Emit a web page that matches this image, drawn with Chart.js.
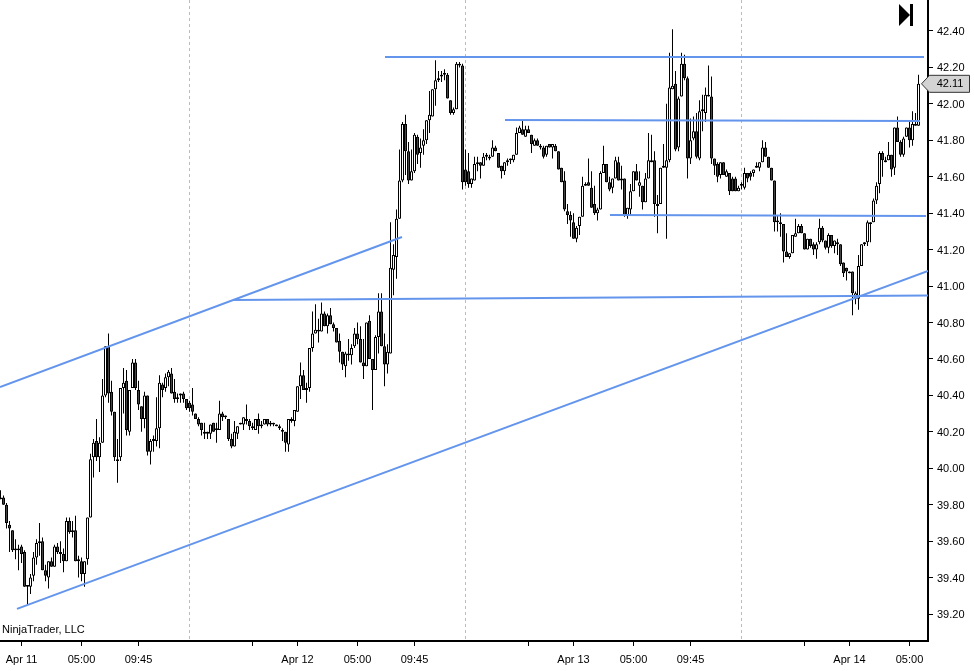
<!DOCTYPE html>
<html>
<head>
<meta charset="utf-8">
<style>
  html, body { margin: 0; padding: 0; background: #fff; }
  #wrap { width: 974px; height: 671px; }
</style>
<script src="https://cdn.jsdelivr.net/npm/chart.js@4"></script>
</head>
<body>
<div id="wrap"><canvas id="chart" width="974" height="671"></canvas></div>
<script>
// 15 minute candles
const opens = [
  39.83,39.84,39.80,39.69,39.66,39.55,39.55,39.57,39.54,39.35,
  39.35,39.41,39.51,39.59,39.60,39.44,39.40,39.49,39.46,39.57,
  39.53,39.53,39.49,39.71,39.65,39.66,39.49,39.49,39.42,39.50,
  39.73,40.06,40.15,40.06,40.14,40.40,40.67,40.42,40.31,40.04,
  40.06,40.44,40.48,40.20,40.44,40.58,40.43,40.34,40.27,40.40,
  40.09,40.16,40.15,40.22,40.46,40.44,40.50,40.52,40.42,40.38,
  40.40,40.41,40.38,40.36,40.35,40.30,40.27,40.25,40.20,40.19,
  40.19,40.25,40.21,40.21,40.30,40.28,40.27,40.16,40.12,40.19,
  40.24,40.24,40.27,40.26,40.23,40.21,40.27,40.23,40.24,40.27,
  40.25,40.24,40.24,40.23,40.21,40.20,40.13,40.27,40.26,40.31,
  40.45,40.51,40.44,40.44,40.66,40.74,40.75,40.75,40.85,40.78,
  40.84,40.79,40.77,40.70,40.64,40.56,40.62,40.62,40.67,40.74,
  40.71,40.58,40.56,40.81,40.60,40.54,40.72,40.86,40.67,40.57,
  40.63,41.09,41.16,41.37,41.58,41.89,41.74,41.58,41.63,41.82,
  41.73,41.77,41.80,41.91,41.93,42.08,42.13,42.15,42.16,42.16,
  42.02,41.95,41.97,42.21,42.21,41.64,41.63,41.56,41.58,41.67,
  41.68,41.66,41.71,41.70,41.71,41.76,41.73,41.66,41.63,41.68,
  41.69,41.69,41.72,41.84,41.86,41.82,41.86,41.83,41.77,41.80,
  41.77,41.76,41.72,41.78,41.76,41.77,41.74,41.65,41.58,41.41,
  41.39,41.35,41.26,41.33,41.38,41.55,41.57,41.54,41.45,41.40,
  41.42,41.62,41.67,41.57,41.54,41.59,41.68,41.58,41.59,41.39,
  41.42,41.52,41.63,41.55,41.55,41.46,41.59,41.68,41.69,41.44,
  41.45,41.65,41.65,41.69,42.08,42.11,41.76,42.04,42.22,42.14,
  41.70,41.81,41.85,41.70,41.96,41.95,42.04,42.04,41.70,41.67,
  41.61,41.68,41.60,41.62,41.59,41.59,41.52,41.55,41.54,41.62,
  41.62,41.62,41.65,41.65,41.68,41.76,41.71,41.65,41.58,41.35,
  41.34,41.34,41.19,41.16,41.18,41.27,41.29,41.33,41.29,41.20,
  41.26,41.23,41.20,41.24,41.32,41.25,41.21,41.28,41.22,41.23,
  41.23,41.13,41.10,41.07,41.08,40.93,40.93,41.11,41.23,41.24,
  41.34,41.35,41.47,41.56,41.73,41.68,41.69,41.72,41.65,41.87,
  41.79,41.72,41.82,41.87,41.80,41.88,41.88
];
const closes = [
  39.84,39.80,39.70,39.67,39.55,39.56,39.56,39.53,39.35,39.36,
  39.40,39.51,39.59,39.60,39.44,39.41,39.49,39.46,39.57,39.54,
  39.54,39.49,39.71,39.65,39.66,39.49,39.50,39.42,39.49,39.73,
  40.05,40.14,40.06,40.14,40.40,40.67,40.41,40.31,40.06,40.05,
  40.44,40.47,40.21,40.43,40.58,40.44,40.35,40.27,40.40,40.09,
  40.15,40.15,40.22,40.47,40.43,40.50,40.53,40.41,40.38,40.39,
  40.41,40.38,40.33,40.33,40.31,40.27,40.24,40.21,40.19,40.20,
  40.24,40.20,40.22,40.30,40.28,40.29,40.16,40.12,40.20,40.23,
  40.25,40.28,40.26,40.23,40.22,40.27,40.23,40.24,40.27,40.24,
  40.24,40.25,40.23,40.22,40.20,40.14,40.27,40.26,40.32,40.45,
  40.51,40.43,40.43,40.66,40.74,40.76,40.76,40.85,40.78,40.84,
  40.79,40.77,40.69,40.64,40.57,40.63,40.63,40.66,40.74,40.71,
  40.58,40.56,40.80,40.60,40.54,40.72,40.86,40.67,40.57,40.64,
  41.10,41.17,41.37,41.58,41.89,41.74,41.58,41.63,41.83,41.72,
  41.76,41.80,41.91,41.94,42.08,42.13,42.14,42.16,42.17,42.03,
  41.95,41.97,42.22,42.22,41.57,41.57,41.56,41.59,41.67,41.68,
  41.66,41.71,41.72,41.71,41.76,41.74,41.65,41.63,41.68,41.69,
  41.70,41.72,41.84,41.87,41.83,41.86,41.84,41.78,41.80,41.77,
  41.76,41.71,41.77,41.76,41.78,41.74,41.64,41.57,41.42,41.39,
  41.36,41.26,41.32,41.38,41.55,41.56,41.55,41.43,41.40,41.42,
  41.62,41.67,41.57,41.53,41.59,41.69,41.58,41.59,41.39,41.43,
  41.52,41.63,41.58,41.57,41.46,41.59,41.69,41.69,41.45,41.45,
  41.65,41.66,41.69,42.09,42.10,41.75,42.03,42.22,42.14,41.70,
  41.80,41.85,41.71,41.96,41.97,42.05,42.05,41.70,41.66,41.60,
  41.68,41.61,41.63,41.52,41.52,41.52,41.54,41.56,41.62,41.59,
  41.60,41.64,41.66,41.68,41.76,41.71,41.65,41.58,41.35,41.36,
  41.35,41.19,41.16,41.18,41.28,41.29,41.33,41.29,41.20,41.26,
  41.22,41.20,41.23,41.32,41.25,41.21,41.28,41.22,41.25,41.24,
  41.12,41.07,41.08,41.08,40.96,40.96,41.11,41.23,41.24,41.35,
  41.35,41.47,41.55,41.73,41.69,41.69,41.72,41.64,41.87,41.79,
  41.72,41.81,41.87,41.80,41.89,41.89,42.11
];
const highs = [
  39.88,39.85,39.81,39.71,39.66,39.61,39.58,39.58,39.55,39.36,
  39.42,39.54,39.61,39.70,39.62,39.47,39.49,39.51,39.58,39.59,
  39.60,39.56,39.73,39.73,39.71,39.74,39.52,39.51,39.49,39.73,
  40.08,40.16,40.27,40.17,40.49,40.67,40.74,40.48,40.31,40.16,
  40.44,40.55,40.54,40.43,40.60,40.60,40.48,40.34,40.42,40.40,
  40.16,40.18,40.39,40.51,40.47,40.52,40.54,40.55,40.49,40.41,
  40.41,40.42,40.38,40.37,40.44,40.30,40.28,40.25,40.25,40.20,
  40.24,40.25,40.25,40.37,40.31,40.29,40.27,40.19,40.26,40.23,
  40.25,40.28,40.35,40.27,40.25,40.27,40.30,40.26,40.27,40.27,
  40.26,40.25,40.24,40.24,40.22,40.20,40.27,40.28,40.32,40.45,
  40.58,40.54,40.47,40.66,40.86,40.90,40.82,40.91,40.86,40.85,
  40.88,40.80,40.77,40.74,40.64,40.64,40.71,40.68,40.77,40.80,
  40.78,40.71,40.80,40.84,40.60,40.73,40.96,40.96,40.74,40.68,
  41.35,41.23,41.42,41.75,41.90,41.94,41.79,41.75,41.84,41.83,
  41.81,41.86,41.91,42.07,42.08,42.24,42.18,42.18,42.19,42.17,
  42.02,41.98,42.23,42.23,42.22,41.75,41.73,41.59,41.71,41.71,
  41.68,41.73,41.73,41.72,41.80,41.77,41.73,41.66,41.68,41.70,
  41.70,41.72,41.87,41.88,41.91,41.88,41.88,41.83,41.81,41.81,
  41.78,41.77,41.77,41.78,41.78,41.78,41.74,41.65,41.63,41.45,
  41.41,41.40,41.33,41.38,41.60,41.57,41.70,41.63,41.55,41.43,
  41.63,41.77,41.67,41.60,41.59,41.71,41.71,41.66,41.59,41.43,
  41.56,41.63,41.67,41.63,41.55,41.62,41.84,41.83,41.74,41.50,
  41.65,41.78,42.00,42.28,42.41,42.18,42.04,42.28,42.27,42.15,
  41.92,41.93,41.95,42.02,42.05,42.09,42.21,42.15,41.70,41.68,
  41.68,41.68,41.64,41.62,41.60,41.60,41.55,41.57,41.65,41.62,
  41.63,41.64,41.68,41.68,41.80,41.79,41.71,41.65,41.58,41.39,
  41.40,41.34,41.29,41.18,41.28,41.37,41.34,41.34,41.29,41.26,
  41.26,41.24,41.24,41.37,41.33,41.25,41.29,41.28,41.25,41.26,
  41.23,41.13,41.10,41.08,41.08,40.97,41.17,41.23,41.24,41.36,
  41.35,41.48,41.57,41.74,41.74,41.71,41.79,41.72,41.87,41.93,
  41.80,41.82,41.87,41.91,41.96,41.95,42.16
];
const lows = [
  39.83,39.80,39.67,39.54,39.54,39.50,39.44,39.48,39.35,39.25,
  39.31,39.38,39.47,39.52,39.44,39.38,39.34,39.46,39.46,39.53,
  39.48,39.43,39.49,39.64,39.62,39.49,39.40,39.38,39.35,39.47,
  39.73,39.95,40.04,39.98,40.14,40.39,40.36,40.29,40.04,39.92,
  40.04,40.30,40.18,40.18,40.44,40.43,40.32,40.20,40.22,40.07,
  40.02,40.09,40.12,40.11,40.39,40.42,40.45,40.41,40.36,40.36,
  40.36,40.36,40.32,40.31,40.29,40.27,40.23,40.18,40.16,40.16,
  40.16,40.20,40.14,40.21,40.26,40.27,40.15,40.11,40.12,40.16,
  40.24,40.21,40.24,40.21,40.21,40.21,40.19,40.22,40.24,40.23,
  40.23,40.23,40.23,40.21,40.15,40.09,40.09,40.25,40.23,40.31,
  40.38,40.43,40.36,40.42,40.64,40.74,40.69,40.75,40.78,40.74,
  40.79,40.75,40.69,40.58,40.54,40.50,40.59,40.57,40.66,40.68,
  40.58,40.49,40.56,40.60,40.32,40.54,40.63,40.67,40.45,40.52,
  40.63,40.95,41.04,41.37,41.57,41.61,41.56,41.58,41.62,41.67,
  41.65,41.72,41.78,41.84,41.93,41.99,42.12,42.12,42.13,42.03,
  41.94,41.94,41.97,42.20,41.53,41.55,41.54,41.54,41.58,41.63,
  41.59,41.66,41.69,41.69,41.71,41.74,41.65,41.59,41.61,41.66,
  41.67,41.68,41.72,41.84,41.83,41.82,41.84,41.73,41.77,41.77,
  41.75,41.70,41.71,41.76,41.70,41.74,41.64,41.57,41.41,41.34,
  41.27,41.26,41.24,41.28,41.38,41.55,41.55,41.43,41.39,41.36,
  41.42,41.62,41.57,41.52,41.51,41.59,41.58,41.53,41.38,41.37,
  41.39,41.52,41.58,41.49,41.42,41.46,41.59,41.68,41.38,41.29,
  41.45,41.65,41.26,41.68,42.08,41.74,41.74,42.04,42.13,41.59,
  41.67,41.80,41.70,41.69,41.85,41.90,42.04,41.67,41.61,41.57,
  41.59,41.61,41.60,41.50,41.52,41.52,41.52,41.53,41.53,41.57,
  41.58,41.60,41.65,41.63,41.68,41.71,41.65,41.58,41.30,41.30,
  41.27,41.13,41.16,41.15,41.18,41.27,41.29,41.29,41.20,41.20,
  41.21,41.17,41.15,41.23,41.24,41.20,41.18,41.21,41.18,41.17,
  41.11,41.05,41.03,41.07,40.84,40.90,40.87,41.11,41.22,41.22,
  41.24,41.35,41.45,41.51,41.60,41.68,41.69,41.60,41.61,41.79,
  41.71,41.71,41.82,41.76,41.77,41.88,41.88
];

// x axis ticks, in bar numbers; empty label = bare tick mark
const tickBars   = [7, 27, 46, 84, 99, 119, 138, 176, 191, 211, 230, 268, 283, 303];
const tickLabels = ['Apr 11', '05:00', '09:45', '', 'Apr 12', '05:00', '09:45', '', 'Apr 13', '05:00', '09:45', '', 'Apr 14', '05:00'];
const sessionBreaks = [63, 155, 247];
const priceTicks = [39.2, 39.4, 39.6, 39.8, 40, 40.2, 40.4, 40.6, 40.8, 41, 41.2, 41.4, 41.6, 41.8, 42, 42.2, 42.4];

// drawn trend lines: [bar, price] at each end
const trendStart = [[-0.17, 40.446], [5.5, 39.228], [77.5, 40.924], [128.17, 42.257], [168.17, 41.912], [203.17, 41.39]];
const trendEnd   = [[133.83, 41.269], [309.17, 41.083], [309.17, 40.948], [307.83, 42.257], [306.5, 41.906], [308.5, 41.385]];

const FONT = '"Liberation Sans", Arial, sans-serif';

const wickData = highs.map((h, i) => ({ x: i, y: [lows[i], h] }));
const bodyData = opens.map((o, i) => ({ x: i, y: [o, closes[i]] }));
const bodyFill = opens.map((o, i) => closes[i] >= o ? '#ffffff' : '#444444');

const trendSets = trendStart.map((s, i) => ({
  type: 'line',
  data: [{ x: s[0], y: s[1] }, { x: trendEnd[i][0], y: trendEnd[i][1] }],
  borderColor: '#6495ED',
  borderWidth: 2,
  pointRadius: 0,
  order: 0
}));

// no room kept for half of the first and last labels
const noMargins = s => {
  s.paddingLeft = s.paddingRight = s.paddingTop = s.paddingBottom = 0;
};

const overlay = {
  id: 'overlay',
  afterDraw(chart) {
    const ctx = chart.ctx;
    const last = closes[closes.length - 1];
    const y = chart.scales.y.getPixelForValue(last);
    ctx.save();
    // last price marker
    ctx.beginPath();
    ctx.moveTo(921.5, y);
    ctx.lineTo(929.5, y - 8.5);
    ctx.lineTo(969.5, y - 8.5);
    ctx.lineTo(969.5, y + 8.5);
    ctx.lineTo(929.5, y + 8.5);
    ctx.closePath();
    ctx.fillStyle = '#d3d3d3';
    ctx.fill();
    ctx.strokeStyle = '#333';
    ctx.lineWidth = 1;
    ctx.stroke();
    ctx.fillStyle = '#000';
    ctx.font = '11px ' + FONT;
    ctx.textAlign = 'center';
    ctx.textBaseline = 'middle';
    ctx.fillText(last.toFixed(2), 950, y + 0.5);
    // go to last bar button
    ctx.beginPath();
    ctx.moveTo(899, 4);
    ctx.lineTo(910, 15);
    ctx.lineTo(899, 26);
    ctx.closePath();
    ctx.fill();
    ctx.fillRect(910, 4, 3, 22);
    // copyright
    ctx.textAlign = 'left';
    ctx.textBaseline = 'alphabetic';
    ctx.fillText('NinjaTrader, LLC', 2, 633);
    ctx.restore();
  }
};

new Chart(document.getElementById('chart'), {
  type: 'bar',
  plugins: [overlay],
  data: {
    datasets: [
      ...trendSets,
      {
        data: bodyData,
        backgroundColor: bodyFill,
        borderColor: '#000',
        borderWidth: 1,
        borderSkipped: false,
        barThickness: 3,
        inflateAmount: 0,
        grouped: false,
        order: 1
      },
      {
        data: wickData,
        backgroundColor: '#000',
        borderWidth: 0,
        barThickness: 1,
        inflateAmount: 0,
        grouped: false,
        order: 2
      }
    ]
  },
  options: {
    responsive: false,
    animation: false,
    devicePixelRatio: 1,
    layout: { padding: 0 },
    plugins: { legend: { display: false }, tooltip: { enabled: false }, title: { display: false } },
    scales: {
      x: {
        type: 'linear',
        offset: false,
        min: -0.167,
        max: 309.167,
        afterFit: s => { s.height = 30; noMargins(s); },
        afterBuildTicks: s => {
          s.ticks = tickBars.concat(sessionBreaks).sort((a, b) => a - b).map(v => ({ value: v }));
        },
        grid: {
          offset: false,
          color: c => sessionBreaks.includes(c.tick && c.tick.value) ? '#bbbbbb' : 'rgba(0,0,0,0)',
          tickColor: c => sessionBreaks.includes(c.tick && c.tick.value) ? 'rgba(0,0,0,0)' : '#000',
          tickLength: 5,
          tickBorderDash: []
        },
        border: { color: '#000', width: 2, dash: [3, 3] },
        ticks: {
          autoSkip: false,
          maxRotation: 0,
          padding: 7,
          color: '#000',
          font: { family: FONT, size: 11 },
          callback: v => {
            const k = tickBars.indexOf(v);
            return k >= 0 ? tickLabels[k] : '';
          }
        }
      },
      y: {
        type: 'linear',
        position: 'right',
        min: 39.052,
        max: 42.57,
        afterFit: s => { s.width = 46; noMargins(s); },
        afterBuildTicks: s => { s.ticks = priceTicks.map(v => ({ value: v })); },
        grid: { drawOnChartArea: false, color: '#000', tickColor: '#000', tickLength: 5 },
        border: { color: '#000', width: 2 },
        ticks: {
          padding: 4,
          labelOffset: 1,
          color: '#000',
          font: { family: FONT, size: 11 },
          callback: v => v.toFixed(2)
        }
      }
    }
  }
});
</script>
</body>
</html>
